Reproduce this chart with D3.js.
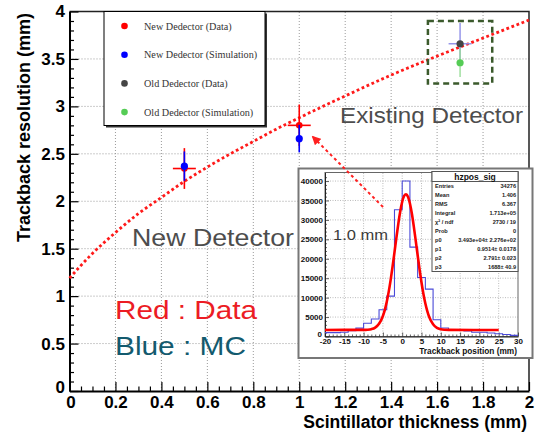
<!DOCTYPE html>
<html><head><meta charset="utf-8">
<script src="https://cdn.jsdelivr.net/npm/d3@7"></script>
<style>body{margin:0;background:#fff}svg{display:block}</style>
</head><body><svg id="c" width="539" height="432"></svg>
<script>
// ---------- main chart data ----------
const xTicks = [0, 0.2, 0.4, 0.6, 0.8, 1.0, 1.2, 1.4, 1.6, 1.8, 2.0];
const xTickLabels = ["0", "0.2", "0.4", "0.6", "0.8", "1", "1.2", "1.4", "1.6", "1.8", "2"];
const yTicks = [0, 0.5, 1, 1.5, 2, 2.5, 3, 3.5, 4];
const yTickLabels = ["0", "0.5", "1", "1.5", "2", "2.5", "3", "3.5", "4"];

const legendLabels = ["New Dedector (Data)", "New Dedector (Simulation)", "Old Dedector (Data)", "Old Dedector (Simulation)"];
const legendColors = ["#ff0000", "#0000ff", "#454545", "#55cc55"];

const newDataX = [0.5, 1.0];
const newDataY = [2.345, 2.80];
const newDataXErr = [0.05, 0.05];
const newDataYErr = [0.215, 0.22];

const newSimX = [0.5, 1.0];
const newSimY = [2.37, 2.66];
const newSimYErr = [0.155, 0.145];

const oldDataX = [1.7];
const oldDataY = [3.66];
const oldDataXErr = [0.05];
const oldDataYErr = [0.22];

const oldSimX = [1.7];
const oldSimY = [3.46];
const oldSimYErr = [0.15];

// red dotted fit curve
const curveX = [0, 0.1, 0.2, 0.3, 0.4, 0.5, 0.6, 0.7, 0.8, 0.9, 1.0, 1.2, 1.4, 1.6, 1.8, 2.0];
const curveY = [1.19, 1.45, 1.67, 1.87, 2.04, 2.21, 2.36, 2.50, 2.63, 2.76, 2.88, 3.11, 3.33, 3.53, 3.72, 3.91];

const boxX = [1.56, 1.84];
const boxY = [3.24, 3.90];

// ---------- inset histogram data ----------
const histLo = [-20, -18, -16, -14, -12, -10, -8, -6, -4, -2, 0, 2, 4, 6, 8, 10, 12, 14, 16, 18, 20, 22, 24, 26, 28];
const histCounts = [1000, 1000, 1100, 1500, 2150, 3400, 4500, 6900, 10400, 32600, 40000, 23000, 15200, 12200, 4300, 2200, 1800, 1600, 1400, 1100, 1100, 900, 700, 500, 300];
const histHi = 30;
const hxTicks = [-20, -15, -10, -5, 0, 5, 10, 15, 20, 25, 30];
const hxTickLabels = ["-20", "-15", "-10", "-5", "0", "5", "10", "15", "20", "25", "30"];
const hyTicks = [0, 5000, 10000, 15000, 20000, 25000, 30000, 35000, 40000];
const hyTickLabels = ["0", "5000", "10000", "15000", "20000", "25000", "30000", "35000", "40000"];

const fitX = [-20, -10, -9, -8, -7, -6, -5, -4.5, -4, -3.5, -3, -2.5, -2, -1.5, -1, -0.5, 0, 0.5, 1, 1.5, 2, 2.5, 3, 3.5, 4, 4.5, 5, 5.5, 6, 6.5, 7, 8, 9, 10, 11, 12, 25];
const fitY = [1688, 1704, 1748, 1892, 2291, 3260, 5290, 6870, 8930, 11480, 14510, 17960, 21660, 25440, 29050, 32210, 34660, 36170, 36618, 35950, 34230, 31630, 28350, 24700, 20910, 17240, 13880, 10920, 8480, 6520, 5010, 3130, 2233, 1869, 1741, 1700, 1688];

const statsLabels = ["Entries", "Mean", "RMS", "Integral", "\u03c7\u00b2 / ndf", "Prob", "p0", "p1", "p2", "p3"];
const statsValues = ["34276", "1.406", "6.367", "1.713e+05", "2730 / 19", "0", "3.493e+04\u00b1 2.276e+02", "0.9514\u00b1 0.0178", "2.791\u00b1 0.023", "1688\u00b1 40.9"];

// ---------- drawing ----------
const svg = d3.select("#c");
const FONT = "'Liberation Sans', Arial, Helvetica, sans-serif";
const SERIF = "'Liberation Serif', 'Times New Roman', serif";

const x = d3.scaleLinear().domain([0, 2]).range([69.5, 529]);
const y = d3.scaleLinear().domain([0, 4]).range([391, 11.5]);

svg.append("rect").attr("width", 539).attr("height", 432).attr("fill", "#fff");

// grid
const grid = svg.append("g").attr("stroke", "#9a9a9a").attr("stroke-width", 1).attr("stroke-dasharray", "1,2");
xTicks.slice(1, -1).forEach(v => grid.append("line").attr("x1", x(v)).attr("x2", x(v)).attr("y1", y(0)).attr("y2", y(4)));
yTicks.slice(1, -1).forEach(v => grid.append("line").attr("y1", y(v)).attr("y2", y(v)).attr("x1", x(0)).attr("x2", x(2)));

// frame top/right
svg.append("path").attr("d", `M${x(0)},${y(4)}H${x(2)}V${y(0)}`).attr("fill", "none").attr("stroke", "#222").attr("stroke-width", 1.5);

// axes
const xMinor = d3.range(0, 2.0001, 0.05).filter(v => Math.abs(v * 5 - Math.round(v * 5)) > 1e-6);
const yMinor = d3.range(0, 4.0001, 0.1).filter(v => Math.abs(v * 2 - Math.round(v * 2)) > 1e-6);

const gx = svg.append("g").attr("transform", `translate(0,${y(0)})`)
  .call(d3.axisBottom(x).tickValues(xTicks).tickFormat((d, i) => xTickLabels[i]).tickSizeInner(-9).tickSizeOuter(0).tickPadding(5));
svg.append("g").attr("transform", `translate(0,${y(0)})`)
  .call(d3.axisBottom(x).tickValues(xMinor).tickFormat("").tickSizeInner(-4.5).tickSizeOuter(0))
  .select(".domain").remove();
const gy = svg.append("g").attr("transform", `translate(${x(0)},0)`)
  .call(d3.axisLeft(y).tickValues(yTicks).tickFormat((d, i) => yTickLabels[i]).tickSizeInner(-9).tickSizeOuter(0).tickPadding(4.5));
svg.append("g").attr("transform", `translate(${x(0)},0)`)
  .call(d3.axisLeft(y).tickValues(yMinor).tickFormat("").tickSizeInner(-4.5).tickSizeOuter(0))
  .select(".domain").remove();
svg.selectAll(".domain").attr("stroke", "#000").attr("stroke-width", 2);
svg.selectAll(".tick line").attr("stroke", "#000").attr("stroke-width", 1.2);
[gx, gy].forEach(g => g.selectAll("text").attr("font-family", FONT).attr("font-size", 17).attr("font-weight", "bold").attr("fill", "#000"));
gx.selectAll(".tick").filter(d => d === 0).select("text").attr("dx", 1);
gy.selectAll(".tick").filter(d => d === 0).select("text").attr("dy", "0.1em");

// axis titles
svg.append("text").attr("x", 527).attr("y", 428).attr("text-anchor", "end")
  .attr("font-family", FONT).attr("font-weight", "bold").attr("font-size", 17.5).text("Scintillator thickness (mm)");
svg.append("text").attr("transform", "translate(30,13) rotate(-90)").attr("text-anchor", "end")
  .attr("font-family", FONT).attr("font-weight", "bold").attr("font-size", 18).text("Trackback resolution (mm)");

// fit curve
const lineMain = d3.line().x((d, i) => x(curveX[i])).y((d, i) => y(curveY[i])).curve(d3.curveMonotoneX);
svg.append("path").attr("d", lineMain(curveX)).attr("fill", "none").attr("stroke", "#ff1a1a")
  .attr("stroke-width", 2.8).attr("stroke-dasharray", "2.8,2.6");

// dashed box round old detector
svg.append("rect").attr("x", x(boxX[0])).attr("y", y(boxY[1])).attr("width", x(boxX[1]) - x(boxX[0])).attr("height", y(boxY[0]) - y(boxY[1]))
  .attr("fill", "none").attr("stroke", "#3b5a2c").attr("stroke-width", 2.5).attr("stroke-dasharray", "6,4");

function errBars(xs, ys, xe, ye, color, width) {
  const g = svg.append("g").attr("stroke", color).attr("stroke-width", width);
  xs.forEach((xv, i) => {
    if (ye && ye[i]) g.append("line").attr("x1", x(xv)).attr("x2", x(xv)).attr("y1", y(ys[i] - ye[i])).attr("y2", y(ys[i] + ye[i]));
    if (xe && xe[i]) g.append("line").attr("x1", x(xv - xe[i])).attr("x2", x(xv + xe[i])).attr("y1", y(ys[i])).attr("y2", y(ys[i]));
  });
}
function points(xs, ys, color, r) {
  svg.append("g").selectAll("circle").data(xs).join("circle")
    .attr("cx", d => x(d)).attr("cy", (d, i) => y(ys[i])).attr("r", r).attr("fill", color);
}
errBars(newDataX, newDataY, newDataXErr, newDataYErr, "#ff0000", 1.6);
points(newDataX, newDataY, "#ff0000", 3.3);
errBars(newSimX, newSimY, null, newSimYErr, "#0000ff", 1.6);
points(newSimX, newSimY, "#0000ff", 3.6);
errBars(oldDataX, oldDataY, oldDataXErr, oldDataYErr, "#8f8fe8", 1.4);
errBars(oldSimX, oldSimY, null, oldSimYErr, "#99dd99", 1.4);
points(oldSimX, oldSimY, "#55cc55", 3.6);
points(oldDataX, oldDataY, "#454545", 3.6);

// legend
const lg = svg.append("g");
lg.append("rect").attr("x", 106).attr("y", 13.5).attr("width", 161).attr("height", 114).attr("fill", "#333");
lg.append("rect").attr("x", 104).attr("y", 11.5).attr("width", 161).attr("height", 114).attr("fill", "#fff").attr("stroke", "#000").attr("stroke-width", 1);
legendLabels.forEach((t, i) => {
  const yy = 26 + i * 28.7;
  lg.append("circle").attr("cx", 124.5).attr("cy", yy).attr("r", 3.3).attr("fill", legendColors[i]);
  lg.append("text").attr("x", 144).attr("y", yy + 3.5).attr("font-family", SERIF).attr("font-size", 10.2).attr("fill", "#333").text(t);
});

// annotations
function ann(t, xx, yy, size, color, len) {
  svg.append("text").attr("x", xx).attr("y", yy).attr("font-family", FONT).attr("font-size", size).attr("fill", color)
    .attr("textLength", len).attr("lengthAdjust", "spacingAndGlyphs").text(t);
}
ann("Existing Detector", 340, 123, 22.5, "#4d4d4d", 183);
ann("New Detector", 132, 246, 23.5, "#4d4d4d", 162);
ann("Red : Data", 115, 319, 25, "#ec1c24", 142);
ann("Blue : MC", 115, 355, 25, "#135a6e", 131);

// ---------- inset ----------
const ins = svg.append("g");
ins.append("rect").attr("x", 298.5).attr("y", 168.5).attr("width", 234).attr("height", 189.5).attr("fill", "#fff").attr("stroke", "#777").attr("stroke-width", 2);

const hx = d3.scaleLinear().domain([-20, 30]).range([325, 518]);
const hy = d3.scaleLinear().domain([0, 42200]).range([336.5, 172.5]);

const hgrid = ins.append("g").attr("stroke", "#aaa").attr("stroke-width", 0.8).attr("stroke-dasharray", "1,1.5");
hxTicks.slice(1, -1).forEach(v => hgrid.append("line").attr("x1", hx(v)).attr("x2", hx(v)).attr("y1", hy(0)).attr("y2", hy(42200)));
hyTicks.slice(1).forEach(v => hgrid.append("line").attr("y1", hy(v)).attr("y2", hy(v)).attr("x1", hx(-20)).attr("x2", hx(30)));

ins.append("rect").attr("x", hx(-20)).attr("y", hy(42200)).attr("width", hx(30) - hx(-20)).attr("height", hy(0) - hy(42200))
  .attr("fill", "none").attr("stroke", "#666").attr("stroke-width", 1);

const hgx = ins.append("g").attr("transform", `translate(0,${hy(0)})`)
  .call(d3.axisBottom(hx).tickValues(hxTicks).tickFormat((d, i) => hxTickLabels[i]).tickSizeInner(-4).tickSizeOuter(0).tickPadding(1.5));
ins.append("g").attr("transform", `translate(0,${hy(0)})`)
  .call(d3.axisBottom(hx).tickValues(d3.range(-20, 31, 1).filter(v => v % 5 !== 0)).tickFormat("").tickSizeInner(-2).tickSizeOuter(0))
  .select(".domain").remove();
const hgy = ins.append("g").attr("transform", `translate(${hx(-20)},0)`)
  .call(d3.axisLeft(hy).tickValues(hyTicks).tickFormat((d, i) => hyTickLabels[i]).tickSizeInner(-4).tickSizeOuter(0).tickPadding(2));
ins.append("g").attr("transform", `translate(${hx(-20)},0)`)
  .call(d3.axisLeft(hy).tickValues(d3.range(1000, 42000, 1000).filter(v => v % 5000 !== 0)).tickFormat("").tickSizeInner(-2).tickSizeOuter(0))
  .select(".domain").remove();
ins.selectAll(".domain").attr("stroke", "#222").attr("stroke-width", 1);
ins.selectAll(".tick line").attr("stroke", "#222").attr("stroke-width", 0.7);
[hgx, hgy].forEach(g => g.selectAll("text").attr("font-family", FONT).attr("font-size", 8).attr("font-weight", "bold").attr("fill", "#111"));
hgy.selectAll(".tick").filter(d => d === 0).select("text").attr("dy", "-0.05em").attr("dx", "-1");
ins.append("text").attr("x", 517).attr("y", 354).attr("text-anchor", "end").attr("font-family", FONT)
  .attr("font-weight", "bold").attr("font-size", 8.3).attr("fill", "#111").text("Trackback position (mm)");

// histogram steps
const stepPts = histLo.map((v, i) => [v, histCounts[i]]).concat([[histHi, histCounts[histCounts.length - 1]]]);
ins.append("path").attr("d", d3.line().x(d => hx(d[0])).y(d => hy(d[1])).curve(d3.curveStepAfter)(stepPts))
  .attr("fill", "none").attr("stroke", "#4a4ad8").attr("stroke-width", 1.1);

// fit
ins.append("path").attr("d", d3.line().x((d, i) => hx(fitX[i])).y((d, i) => hy(fitY[i])).curve(d3.curveMonotoneX)(fitX))
  .attr("fill", "none").attr("stroke", "#ff0000").attr("stroke-width", 2.6);

// stats box
const sb = ins.append("g");
sb.append("rect").attr("x", 432).attr("y", 171.5).attr("width", 86).attr("height", 100).attr("fill", "#fff").attr("stroke", "#555").attr("stroke-width", 1);
sb.append("rect").attr("x", 432).attr("y", 171.5).attr("width", 86).attr("height", 10).attr("fill", "#fff").attr("stroke", "#555").attr("stroke-width", 1);
sb.append("text").attr("x", 475).attr("y", 180).attr("text-anchor", "middle").attr("font-family", FONT).attr("font-weight", "bold").attr("font-size", 8.5).attr("fill", "#111").text("hzpos_sig");
statsLabels.forEach((t, i) => {
  const yy = 187.5 + i * 9.1;
  sb.append("text").attr("x", 435).attr("y", yy).attr("font-family", FONT).attr("font-weight", "bold").attr("font-size", 5.6).attr("fill", "#222").text(t);
  sb.append("text").attr("x", 516).attr("y", yy).attr("text-anchor", "end").attr("font-family", FONT).attr("font-weight", "bold").attr("font-size", 5.6).attr("fill", "#222").text(statsValues[i]);
});

ins.append("text").attr("x", 333).attr("y", 240).attr("font-family", FONT).attr("font-size", 15.5).attr("fill", "#3a3a3a")
  .attr("textLength", 55).attr("lengthAdjust", "spacingAndGlyphs").text("1.0 mm");

// red arrow (from inset to the 1.0 mm point)
svg.append("defs").append("marker").attr("id", "ah").attr("viewBox", "0 0 10 10").attr("refX", 8).attr("refY", 5)
  .attr("markerWidth", 4.5).attr("markerHeight", 4.5).attr("orient", "auto")
  .append("path").attr("d", "M0,0L10,5L0,10z").attr("fill", "#ff2020");
svg.append("line").attr("x1", 383).attr("y1", 207).attr("x2", 313).attr("y2", 137)
  .attr("stroke", "#ff2020").attr("stroke-width", 2).attr("stroke-dasharray", "3,3").attr("marker-end", "url(#ah)");
</script></body></html>
